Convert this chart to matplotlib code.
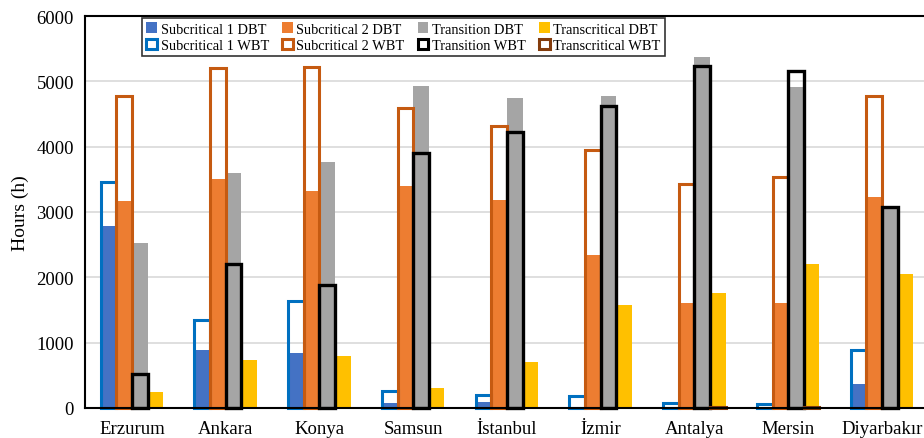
import numpy as np
import matplotlib
matplotlib.use('Agg')
import matplotlib.pyplot as plt

plt.rcParams['font.family'] = ['Liberation Serif', 'DejaVu Serif']

cities = ['Erzurum', 'Ankara', 'Konya', 'Samsun', 'İstanbul', 'İzmir',
          'Antalya', 'Mersin', 'Diyarbakır']

# hours per regime, dry bulb (DBT) and wet bulb (WBT)
sub1_dbt = [2780, 890, 840, 80, 90, 10, 20, 10, 360]
sub1_wbt = [3460, 1340, 1640, 260, 200, 180, 75, 60, 890]
sub2_dbt = [3170, 3500, 3320, 3400, 3180, 2340, 1600, 1600, 3230]
sub2_wbt = [4770, 5210, 5220, 4590, 4320, 3950, 3430, 3530, 4770]
trans_dbt = [2520, 3600, 3770, 4930, 4740, 4770, 5370, 4920, 3070]
trans_wbt = [520, 2210, 1890, 3910, 4220, 4620, 5230, 5160, 3080]
tcrit_dbt = [250, 740, 800, 300, 700, 1570, 1760, 2200, 2050]
tcrit_wbt = [0, 0, 0, 0, 0, 0, 20, 15, 0]

groups = [
    ('Subcritical 1', sub1_dbt, sub1_wbt, '#4472C4', '#0070C0'),
    ('Subcritical 2', sub2_dbt, sub2_wbt, '#ED7D31', '#C55A11'),
    ('Transition', trans_dbt, trans_wbt, '#A5A5A5', '#000000'),
    ('Transcritical', tcrit_dbt, tcrit_wbt, '#FFC000', '#843C0C'),
]

fig = plt.figure(figsize=(9.24, 4.39), dpi=100)
ax = fig.add_axes([85 / 924, 30 / 439, 843.75 / 924, 392 / 439])

x = np.arange(len(cities))
w = 1 / 6
handles = []
for i, (name, dbt, wbt, fc, ec) in enumerate(groups):
    pos = x + (i - 1.5) * w
    wbt = np.array(wbt, dtype=float)
    wbt[wbt == 0] = np.nan
    b1 = ax.bar(pos, dbt, w, color=fc, zorder=2, label=name + ' DBT')
    lw = 2.4 if ec == '#000000' else 2.2
    b2 = ax.bar(pos, wbt, w, facecolor='none', edgecolor=ec, linewidth=lw,
                zorder=3, label=name + ' WBT')
    for p in b2:
        p.set_clip_on(False)
    handles += [b1, b2]

ax.set_xlim(-0.5, len(cities) - 0.5)
ax.set_ylim(0, 6000)
ax.set_yticks(range(0, 6001, 1000))
ax.set_xticks(x)
ax.set_xticklabels(cities)
ax.tick_params(length=0, labelsize=13.5)
ax.tick_params(axis='x', pad=9)
ax.tick_params(axis='y', pad=8)
ax.grid(axis='y', color='#D9D9D9', linewidth=1.2, zorder=0)
ax.set_axisbelow(True)
for s in ax.spines.values():
    s.set_linewidth(1.5)
    s.set_zorder(4)
ax.set_ylabel('Hours (h)', fontsize=14, labelpad=5)

leg = ax.legend(handles=handles, ncol=4, loc='upper left',
                bbox_to_anchor=(57 / 843.75, 0.995), fontsize=10.4,
                frameon=True, fancybox=False, edgecolor='black',
                handlelength=0.75, handleheight=0.75, handletextpad=0.25,
                columnspacing=0.9, labelspacing=0.2, borderpad=0.3,
                borderaxespad=0)
leg.get_frame().set_linewidth(1.2)
for h in leg.legend_handles:
    if h.get_facecolor()[3] == 0:
        h.set_linewidth(2.2)

fig.savefig('out.png', dpi=100)
